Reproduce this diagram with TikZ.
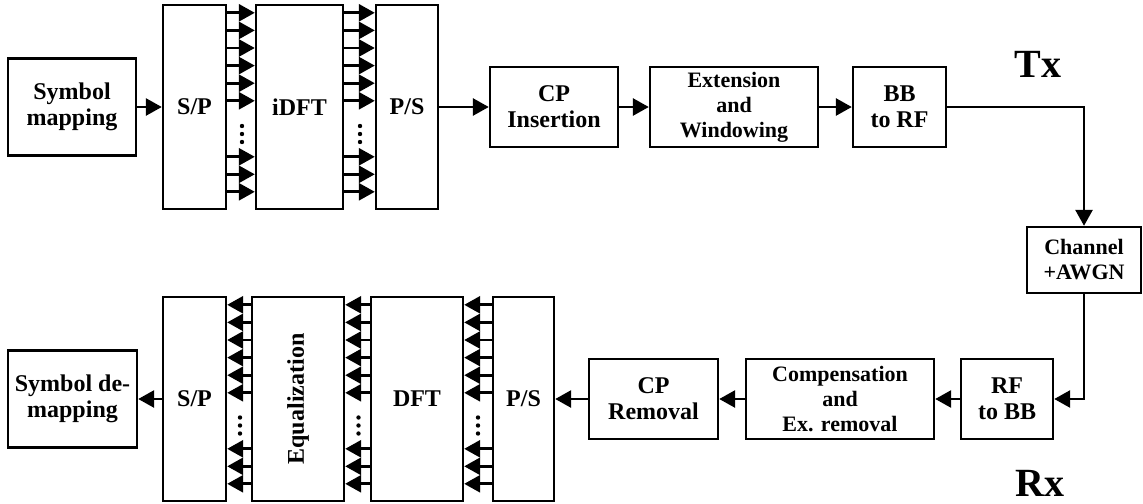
\documentclass[tikz,border=0pt]{standalone}
\usepackage{fontspec}
\setmainfont{Liberation Serif}
\usetikzlibrary{chains,scopes,arrows.meta}
\tikzset{
  block/.style={
    % The shape:
    rectangle,
    % The border:
    draw=black,
    line width=1.2pt,
    % The text:
    align=center,
    inner sep=0pt,
    font=\fontsize{12}{13}\selectfont\bfseries},
  small block/.style={
    block,
    font=\fontsize{11}{12.5}\selectfont\bfseries},
  bank/.style={
    % The tall boxes of the parallel part
    block,
    minimum height=102pt},
  side label/.style={font=\fontsize{20}{22}\selectfont\bfseries}
}

\begin{document}
\begin{tikzpicture}[x=0.5pt,y=-0.5pt,>={Triangle[length=8pt,width=8.5pt]},
                    line width=1.4pt,tip/.style={->}]
  \useasboundingbox (0,0) rectangle (1143,503);

  % transmitter
  \node (smap)   [block,minimum width=64pt,minimum height=48.5pt] at (72,107)    {Symbol\\mapping};
  \node (sp1)    [bank,minimum width=31.5pt]                       at (194.5,107) {S/P};
  \node (idft)   [bank,minimum width=43.5pt]                       at (299.5,107) {iDFT};
  \node (ps1)    [bank,minimum width=31pt]                         at (407,107)   {P/S};
  \node (cpins)  [block,minimum width=64pt,minimum height=40pt]    at (554,107)   {CP\\Insertion};
  \node (extwin) [small block,minimum width=84pt,minimum height=40pt] at (734,107) {Extension\\and\\Windowing};
  \node (bbrf)   [block,minimum width=46.5pt,minimum height=40pt]  at (899.5,107) {BB\\to RF};
  \node (tx)     [side label] at (1038,64) {Tx};

  % channel
  \node (chan)   [small block,minimum width=57pt,minimum height=33pt] at (1084,260) {Channel\\+AWGN};

  % receiver
  \node (rfbb)   [block,minimum width=46pt,minimum height=40pt]    at (1007,399)  {RF\\to BB};
  \node (comp)   [small block,minimum width=94pt,minimum height=40pt] at (840,399) {Compensation\\and\\Ex. removal};
  \node (cprem)  [block,minimum width=64.5pt,minimum height=40pt]  at (653.5,399) {CP\\Removal};
  \node (ps2)    [bank,minimum width=30.5pt]                       at (523.5,399) {P/S};
  \node (dft)    [bank,minimum width=46pt]                         at (417,399)   {DFT};
  \node (equal)  [bank,minimum width=46pt]                         at (298,399)   {\rotatebox{90}{Equalization}};
  \node (sp2)    [bank,minimum width=31.5pt]                       at (194.5,399) {S/P};
  \node (sdemap) [block,minimum width=64.5pt,minimum height=48.5pt] at (72.5,399) {Symbol de-\\mapping};
  \node (rx)     [side label] at (1040,483) {Rx};

  \draw[tip] (smap) -- (sp1);
  \draw[tip] (ps1) -- (cpins);
  { [start chain]
    \chainin (cpins);
    \chainin (extwin) [join=by tip];
    \chainin (bbrf)   [join=by tip];
  }
  \draw[tip] (bbrf) -| (chan);
  \draw[tip] (chan) |- (rfbb);
  { [start chain]
    \chainin (rfbb);
    \chainin (comp)  [join=by tip];
    \chainin (cprem) [join=by tip];
    \chainin (ps2)   [join=by tip];
  }
  \draw[tip] (sp2) -- (sdemap);

  % parallel lines
  \foreach \off in {9,26.6,44.2,61.8,79.4,97,153,170.5,188} {
    \draw[tip] ([yshift=-\off*0.5pt]sp1.north east)  -- ([yshift=-\off*0.5pt]idft.north west);
    \draw[tip] ([yshift=-\off*0.5pt]idft.north east) -- ([yshift=-\off*0.5pt]ps1.north west);
    \draw[tip] ([yshift=-\off*0.5pt]equal.north west) -- ([yshift=-\off*0.5pt]sp2.north east);
    \draw[tip] ([yshift=-\off*0.5pt]dft.north west)   -- ([yshift=-\off*0.5pt]equal.north east);
    \draw[tip] ([yshift=-\off*0.5pt]ps2.north west)   -- ([yshift=-\off*0.5pt]dft.north east);
  }

  % dots between them
  \foreach \x/\y in {242/134,360/134,240/425.5,358.5/425.5,478/425.5}
    \foreach \d in {-8,0,8}
      \fill (\x,\y+\d) circle (1.1pt);
\end{tikzpicture}
\end{document}
